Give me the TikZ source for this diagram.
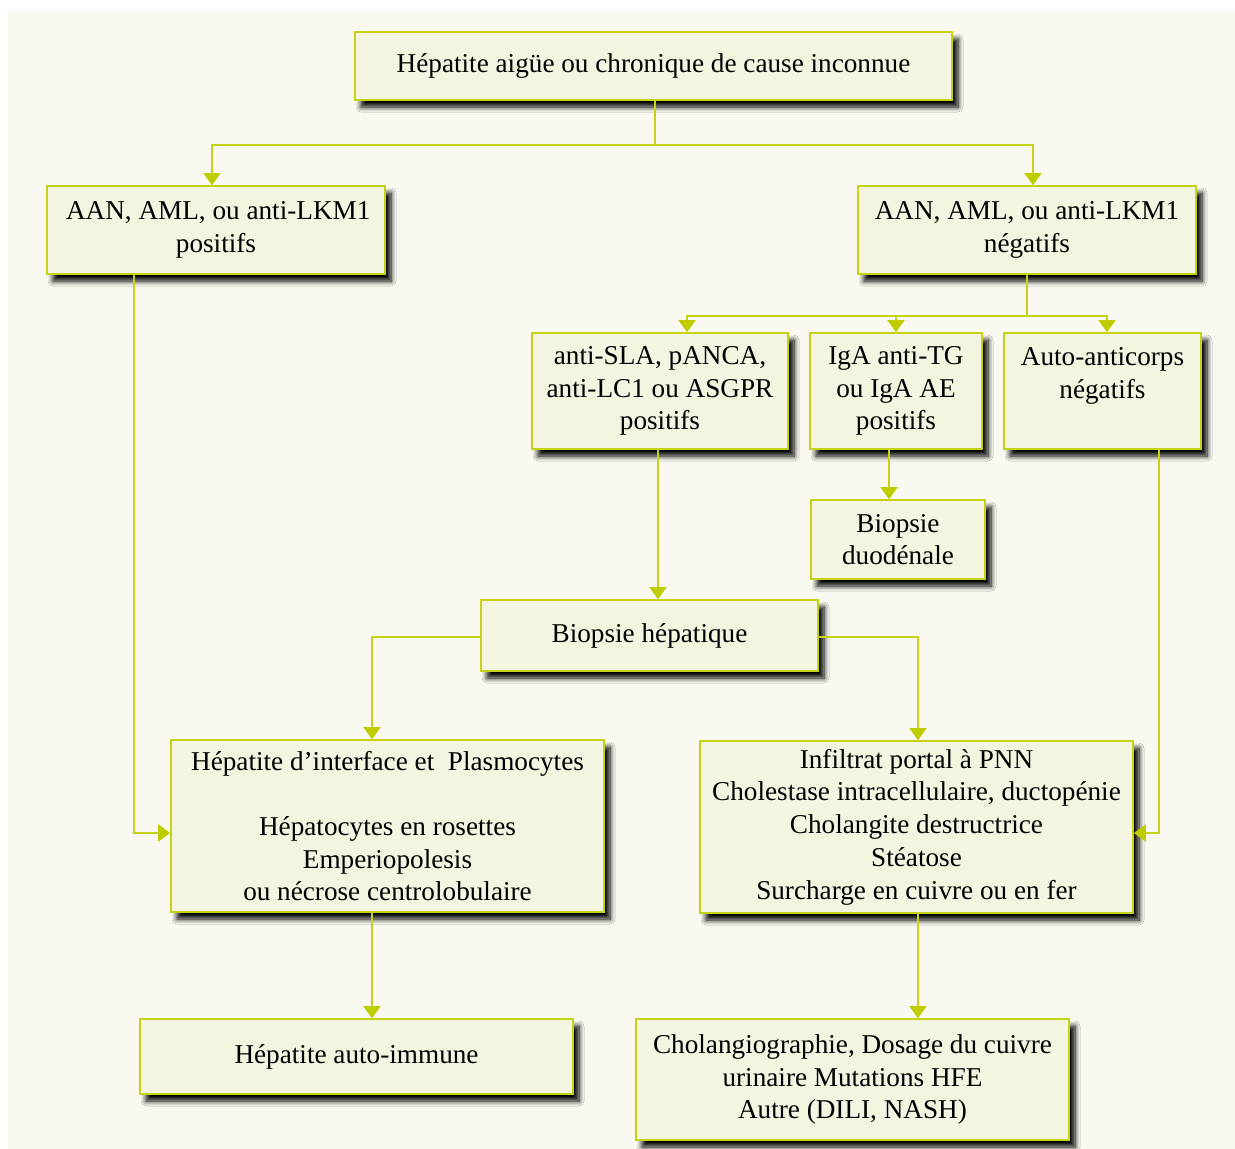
\documentclass[tikz,border=0pt]{standalone}
\usepackage{fontspec}
\setmainfont{Liberation Serif}
\usetikzlibrary{arrows.meta,shadows.blur}
\definecolor{bgclr}{RGB}{249,249,241}
\definecolor{boxfill}{RGB}{243,245,224}
\definecolor{lineclr}{RGB}{196,211,20}
\definecolor{tipclr}{RGB}{190,204,0}
\begin{document}
\begin{tikzpicture}[x=1pt,y=-1pt,
  box/.style={draw=lineclr, line width=1.6pt, fill=boxfill, inner sep=0pt, align=center,
    font=\fontsize{27.2}{32.7}\selectfont,
    blur shadow={shadow xshift=6pt, shadow yshift=-7pt, shadow blur radius=5pt, shadow opacity=100, shadow blur steps=8}},
  conn/.style={draw=lineclr, line width=1.5pt, -{Triangle[width=17pt,length=12pt,fill=tipclr,color=tipclr]}},
  plain/.style={draw=lineclr, line width=1.5pt}]
\useasboundingbox (0,0) rectangle (1235,1149);
\fill[white] (0,0) rectangle (1235,1149);
\fill[bgclr] (8,11) rectangle (1235,1149);

\node[box, minimum width=597pt, minimum height=68pt] (top) at (653.5,66) {Hépatite aigüe ou chronique de cause inconnue};
\node[box, minimum width=338pt, minimum height=88pt] (l1) at (216,230) {\,AAN, AML, ou anti-LKM1\\positifs};
\node[box, minimum width=338pt, minimum height=88pt] (r1) at (1027,230) {AAN, AML, ou anti-LKM1\\négatifs};
\node[box, minimum width=256pt, minimum height=116pt] (a) at (660,391) {anti-SLA, pANCA,\\anti-LC1 ou ASGPR\\positifs};
\node[box, minimum width=172pt, minimum height=116pt] (b) at (896,391) {IgA anti-TG\\ou IgA AE\\positifs};
\node[box, minimum width=197pt, minimum height=116pt] (c) at (1102.5,391) {Auto-anticorps\\négatifs\\[-6pt]\strut};
\node[box, minimum width=174pt, minimum height=79pt] (d) at (898,539.5) {Biopsie\\duodénale};
\node[box, minimum width=337pt, minimum height=71pt] (e) at (649.5,635.5) {Biopsie hépatique};
\node[box, minimum width=433pt, minimum height=172pt] (f) at (387.5,826) {Hépatite d’interface et\ \ Plasmocytes\\\strut\\Hépatocytes en rosettes\\Emperiopolesis\\ou nécrose centrolobulaire};
\node[box, minimum width=433pt, minimum height=172pt] (g) at (916.5,827) {Infiltrat portal à PNN\\Cholestase intracellulaire, ductopénie\\Cholangite destructrice\\Stéatose\\Surcharge en cuivre ou en fer};
\node[box, minimum width=433pt, minimum height=75pt] (h) at (356.5,1056.5) {Hépatite auto-immune};
\node[box, minimum width=433pt, minimum height=121pt] (i) at (852.5,1079.5) {Cholangiographie, Dosage du cuivre\\urinaire Mutations HFE\\Autre (DILI, NASH)};

% top split
\coordinate (s1) at (655,145);
\draw[plain] ([xshift=1.5pt]top.south) -- (s1);
\draw[conn] (s1) -| ([xshift=-4pt]l1.north);
\draw[conn] (s1) -| ([xshift=6pt]r1.north);
% r1 split
\coordinate (s2) at (1027,316);
\draw[plain] (r1.south) -- (s2);
\draw[conn] (s2) -| ([xshift=27pt]a.north);
\draw[conn] (s2) -| (b.north);
\draw[conn] (s2) -| ([xshift=4.5pt]c.north);
% b to d
\draw[conn] ([xshift=-7pt]b.south) -- ([xshift=-9pt]d.north);
% a to e
\draw[conn] ([xshift=-2pt]a.south) -- ([xshift=8.5pt]e.north);
% e to f and g
\draw[conn] ([yshift=-1.5pt]e.west) -| ([xshift=-15.5pt]f.north);
\draw[conn] ([yshift=-1.5pt]e.east) -| ([xshift=1.5pt]g.north);
% l1 to f
\draw[conn] ([xshift=-82pt]l1.south) |- ([yshift=-7pt]f.west);
% c to g
\draw[conn] ([xshift=56.5pt]c.south) |- ([yshift=-6pt]g.east);
% f to h, g to i
\draw[conn] ([xshift=-15.5pt]f.south) -- ([xshift=15.5pt]h.north);
\draw[conn] ([xshift=1.5pt]g.south) -- ([xshift=65.5pt]i.north);
\end{tikzpicture}
\end{document}
